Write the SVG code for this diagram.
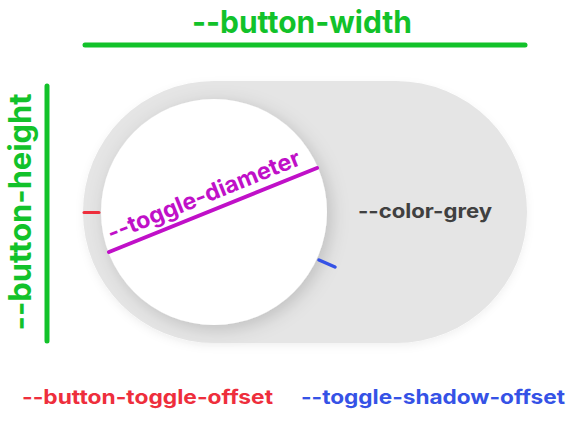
<svg xmlns="http://www.w3.org/2000/svg" width="580" height="422" viewBox="0 0 580 422">
  <defs>
    <filter id="pillShadow" x="-10%" y="-10%" width="120%" height="125%">
      <feDropShadow dx="0" dy="3" stdDeviation="4" flood-color="#000" flood-opacity="0.06"/>
    </filter>
    <filter id="knobShadow" x="-25%" y="-25%" width="150%" height="150%">
      <feDropShadow dx="4" dy="4" stdDeviation="9" flood-color="#000" flood-opacity="0.17"/>
    </filter>
  </defs>
  <style>
    text { font-family: Inter, "Liberation Sans", Arial, sans-serif; font-weight: 700; }
    .dim { stroke-linecap: round; fill: none; }
    .green { fill: #12c22a; }
    .gline { stroke: #12c22a; stroke-width: 5; }
  </style>

  <rect width="580" height="422" fill="#ffffff"/>

  <!-- switch track -->
  <g id="track">
    <rect x="83" y="81" width="444" height="262" rx="131" ry="131" fill="#e5e5e5" filter="url(#pillShadow)"/>
    <text x="358" y="218" font-size="20" fill="#404040" textLength="134" lengthAdjust="spacingAndGlyphs">--color-grey</text>
  </g>

  <!-- switch knob -->
  <g id="knob">
    <circle cx="214" cy="212" r="113" fill="#ffffff" filter="url(#knobShadow)"/>
  </g>

  <!-- dimension markers -->
  <g id="connectors">
    <line class="dim gline" x1="85" y1="45" x2="525" y2="45"/>
    <line class="dim gline" x1="47" y1="86" x2="47" y2="341"/>
    <line class="dim" x1="84" y1="212.5" x2="99" y2="212.5" stroke="#ee2e3c" stroke-width="3"/>
    <line class="dim" x1="319" y1="260" x2="335" y2="267" stroke="#3552e6" stroke-width="3.5"/>
    <line class="dim" x1="109" y1="252" x2="317" y2="168" stroke="#c010c8" stroke-width="4"/>
  </g>

  <g id="width-label">
    <text class="green" x="192" y="33" font-size="31" textLength="220" lengthAdjust="spacingAndGlyphs">--button-width</text>
  </g>

  <g id="height-label">
    <text class="green" transform="translate(31 212) rotate(-90)" x="0" y="0" font-size="31" text-anchor="middle" textLength="237" lengthAdjust="spacingAndGlyphs">--button-height</text>
  </g>

  <g id="diameter-label">
    <text transform="translate(109 252) rotate(-22)" x="6" y="-9" font-size="23" fill="#c010c8" textLength="206" lengthAdjust="spacingAndGlyphs">--toggle-diameter</text>
  </g>

  <g id="offset-label">
    <text x="22" y="404" font-size="20" fill="#ee2e3c" textLength="251" lengthAdjust="spacingAndGlyphs">--button-toggle-offset</text>
  </g>

  <g id="shadow-label">
    <text x="301" y="404" font-size="20" fill="#3552e6" textLength="264" lengthAdjust="spacingAndGlyphs">--toggle-shadow-offset</text>
  </g>
</svg>
